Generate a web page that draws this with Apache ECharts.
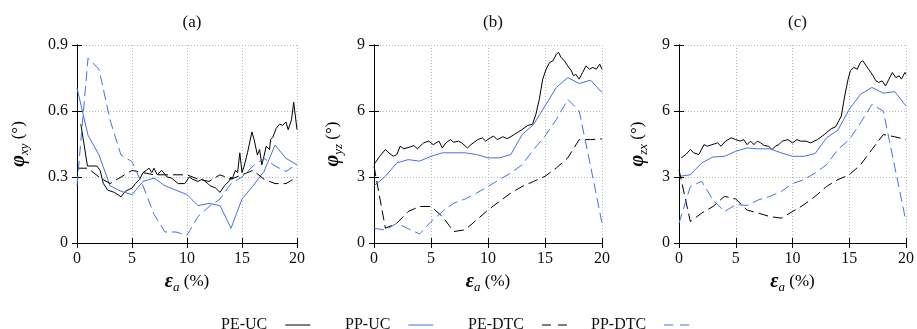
<!DOCTYPE html>
<html>
<head>
<meta charset="utf-8">
<script src="https://cdn.jsdelivr.net/npm/echarts@6/dist/echarts.min.js"></script>
<style>
  html, body { margin: 0; padding: 0; background: #fff; }
  #chart { width: 917px; height: 329px; }
</style>
</head>
<body>
<div id="chart"></div>
<script>
// Rotation angles (deg) vs axial strain (%) for three planes
const seriesNames = ['PE-UC', 'PP-UC', 'PE-DTC', 'PP-DTC'];
const panelTitles = ['(a)', '(b)', '(c)'];
const xTicks = [0, 5, 10, 15, 20];
const yTicksA = [0, 0.3, 0.6, 0.9];
const yTicksBC = [0, 3, 6, 9];

// (a) phi_xy
const aPEUC = [[0.35,0.54],[0.95,0.35],[1.8,0.35],[2.1,0.33],[2.4,0.27],[2.8,0.24],[3.4,0.23],[4.0,0.21],[4.4,0.235],[5.0,0.25],[5.3,0.27],[5.7,0.29],[6.0,0.32],[6.3,0.33],[6.55,0.34],[6.8,0.32],[7.0,0.34],[7.3,0.31],[7.7,0.33],[8.2,0.30],[8.6,0.295],[9.2,0.27],[9.8,0.27],[10.2,0.30],[10.5,0.29],[11.0,0.28],[11.4,0.29],[11.9,0.27],[12.1,0.26],[12.6,0.25],[13.0,0.23],[13.4,0.26],[13.8,0.28],[14.0,0.30],[14.1,0.29],[14.4,0.33],[14.6,0.32],[14.8,0.41],[15.0,0.32],[15.2,0.35],[15.5,0.41],[15.9,0.505],[16.1,0.47],[16.4,0.40],[16.6,0.425],[16.8,0.355],[17.0,0.395],[17.2,0.44],[17.5,0.425],[17.6,0.47],[17.8,0.48],[18.1,0.52],[18.4,0.54],[18.7,0.535],[19.0,0.55],[19.2,0.515],[19.5,0.56],[19.7,0.64],[19.85,0.64],[20,0.515]];
const aPPUC = [[0,0.705],[1,0.49],[2,0.40],[3,0.26],[4,0.235],[5,0.22],[6,0.28],[7,0.295],[8,0.26],[9,0.24],[10,0.22],[11,0.17],[12,0.18],[13,0.17],[14,0.067],[15,0.2],[16,0.26],[17,0.325],[18,0.445],[19,0.385],[20,0.355]];
const aPEDTC = [[0,0.34],[1,0.34],[2,0.30],[3,0.27],[4,0.30],[5,0.33],[6,0.32],[7,0.31],[8,0.31],[9,0.31],[10,0.31],[11,0.29],[12,0.28],[13,0.31],[14,0.29],[15,0.31],[16,0.33],[17,0.29],[18,0.27],[19,0.27],[20,0.30]];
const aPPDTC = [[0,0.26],[1,0.84],[2,0.79],[3,0.56],[4,0.40],[5,0.37],[6,0.26],[7,0.13],[8,0.05],[9,0.05],[10,0.035],[11,0.12],[12,0.165],[13,0.2],[14,0.27],[15,0.30],[16,0.35],[17,0.385],[18,0.35],[19,0.325],[20,0.36]];

// (b) phi_yz
const bPEUC = [[0.1,3.64],[0.5,3.94],[1.0,4.25],[1.3,4.1],[1.7,3.94],[2.0,4.02],[2.3,4.4],[2.6,4.28],[3.2,4.37],[3.5,4.43],[3.8,4.28],[4.35,4.55],[4.8,4.63],[5.2,4.47],[5.7,4.63],[6.0,4.32],[6.3,4.55],[6.7,4.7],[7.0,4.58],[7.4,4.63],[7.7,4.55],[8.2,4.32],[8.5,4.47],[9.1,4.7],[9.5,4.78],[9.8,4.63],[10.2,4.78],[10.5,4.86],[10.8,4.7],[11.3,4.83],[11.7,4.74],[12.3,4.93],[13.0,5.16],[13.5,5.35],[13.9,5.39],[14.2,5.85],[14.5,6.53],[14.8,7.45],[15.1,7.9],[15.4,8.2],[15.7,8.28],[16.0,8.59],[16.2,8.66],[16.4,8.44],[16.7,8.28],[17.0,8.05],[17.3,7.83],[17.5,7.6],[17.7,7.67],[18.0,7.45],[18.3,7.75],[18.6,8.05],[18.9,7.9],[19.2,7.98],[19.5,7.9],[19.8,8.13],[20,7.9]];
const bPPUC = [[0,2.6],[1,3.03],[2,3.64],[3,3.79],[4,3.72],[5,3.94],[6,4.1],[7,4.1],[8,4.1],[9,4.02],[10,3.87],[11,3.87],[12,4.02],[13,4.93],[14,5.39],[15,6.23],[16,7.07],[17,7.52],[18,7.25],[19,7.4],[20,6.84]];
const bPEDTC = [[0,3.49],[1,0.67],[2,0.9],[3,1.43],[4,1.66],[5,1.66],[6,1.2],[7,0.52],[8,0.6],[9,1.05],[10,1.5],[11,1.89],[12,2.27],[13,2.57],[14,2.8],[15,3.03],[16,3.41],[17,3.87],[18,4.7],[19,4.7],[20,4.73]];
const bPPDTC = [[0,0.67],[1,0.59],[2,0.9],[3,0.65],[4,0.41],[5,0.97],[6,1.43],[7,1.81],[8,2.0],[9,2.27],[10,2.57],[11,2.88],[12,3.18],[13,3.56],[14,4.25],[15,4.86],[16,5.62],[17,6.53],[18,6.0],[19,3.49],[20,0.9]];

// (c) phi_zx
const cPEUC = [[0.2,3.87],[0.6,4.02],[1.0,4.25],[1.3,4.1],[1.75,4.02],[2.2,4.47],[2.5,4.4],[2.9,4.47],[3.4,4.55],[3.7,4.4],[4.1,4.63],[4.6,4.78],[5.0,4.7],[5.4,4.63],[5.7,4.7],[6.0,4.47],[6.3,4.63],[6.6,4.47],[6.9,4.63],[7.2,4.55],[7.5,4.43],[7.9,4.4],[8.2,4.25],[8.5,4.4],[8.8,4.47],[9.1,4.63],[9.6,4.7],[10.0,4.55],[10.4,4.7],[10.7,4.63],[11.2,4.63],[11.6,4.55],[12.2,4.7],[12.8,4.93],[13.4,5.19],[13.8,5.28],[14.3,5.77],[14.6,6.68],[14.9,7.45],[15.1,7.83],[15.4,7.98],[15.7,7.9],[16.0,8.23],[16.2,8.28],[16.5,8.05],[16.8,7.83],[17.1,7.6],[17.35,7.37],[17.6,7.3],[17.9,7.37],[18.2,7.14],[18.5,7.45],[18.8,7.75],[19.1,7.52],[19.4,7.6],[19.6,7.45],[19.9,7.75],[20,7.67]];
const cPPUC = [[0,3.03],[1,3.1],[2,3.64],[3,3.91],[4,3.94],[5,4.17],[6,4.32],[7,4.28],[8,4.28],[9,4.1],[10,3.94],[11,3.94],[12,4.07],[13,4.78],[14,5.13],[15,6.08],[16,6.76],[17,7.07],[18,6.81],[19,6.88],[20,6.23]];
const cPEDTC = [[0,3.33],[1,0.97],[2,1.36],[3,1.66],[4,2.12],[5,2.0],[6,1.5],[7,1.36],[8,1.2],[9,1.13],[10,1.43],[11,1.74],[12,2.12],[13,2.57],[14,2.88],[15,3.1],[16,3.56],[17,4.25],[18,4.93],[19,4.83],[20,4.7]];
const cPPDTC = [[0,0.9],[1,2.57],[2,2.8],[3,1.96],[4,1.43],[5,1.74],[6,1.71],[7,1.96],[8,2.12],[9,2.34],[10,2.7],[11,2.88],[12,3.18],[13,3.56],[14,4.25],[15,4.7],[16,5.47],[17,6.3],[18,6.0],[19,3.49],[20,0.97]];

const panelData = [
  [aPEUC, aPPUC, aPEDTC, aPPDTC],
  [bPEUC, bPPUC, bPEDTC, bPPDTC],
  [cPEUC, cPPUC, cPEDTC, cPPDTC]
];

const SERIF = 'Liberation Serif';
const BLUE = '#4273e2';
const lineColors = ['#000', BLUE, '#000', BLUE];
const lineDashes = ['solid', 'solid', [10, 5], [10, 5]];
const legendDashes = ['solid', 'solid', [9, 7], [9, 7]];

const grids = [
  { left: 77, top: 45, width: 220, height: 198 },
  { left: 374, top: 45, width: 228, height: 198 },
  { left: 679, top: 45, width: 227, height: 198 }
];

const yNames = [
  '{p|φ}{s|xy}{r| (°)}',
  '{p|φ}{s|yz}{r| (°)}',
  '{p|φ}{s|zx}{r| (°)}'
];
const yNameGaps = [46, 29, 29];
const yRanges = [
  { ticks: yTicksA, max: 0.9, interval: 0.3 },
  { ticks: yTicksBC, max: 9, interval: 3 },
  { ticks: yTicksBC, max: 9, interval: 3 }
];

const nameRich = {
  p: { fontFamily: SERIF, fontSize: 20, fontStyle: 'italic', fontWeight: 'bold', color: '#000', lineHeight: 24 },
  s: { fontFamily: SERIF, fontSize: 13, fontStyle: 'italic', color: '#000', verticalAlign: 'bottom', lineHeight: 13 },
  r: { fontFamily: SERIF, fontSize: 17, color: '#000', lineHeight: 24 }
};

const labelStyle = { fontFamily: SERIF, fontSize: 16, color: '#111' };
const gridLine = { show: true, lineStyle: { color: '#b8b8b8', type: [1, 2], width: 1 } };

const xAxes = [], yAxes = [], series = [], titles = [];
grids.forEach((g, i) => {
  xAxes.push({
    type: 'value', gridIndex: i, min: xTicks[0], max: xTicks[xTicks.length - 1], interval: 5,
    axisLine: { show: true, lineStyle: { color: '#000', width: 1 } },
    axisTick: { show: true, inside: true, length: 5, lineStyle: { color: '#000' } },
    axisLabel: { ...labelStyle, margin: 8 },
    splitLine: gridLine,
    name: '{p|ε}{s|a}{r| (%)}', nameLocation: 'middle', nameGap: 25,
    nameTextStyle: { rich: nameRich }
  });
  xAxes.push({
    type: 'value', gridIndex: i, position: 'top', min: xTicks[0], max: xTicks[xTicks.length - 1], interval: 5,
    axisLine: { show: true, lineStyle: { color: '#000', width: 1 } },
    axisTick: { show: true, inside: true, length: 5, lineStyle: { color: '#000' } },
    axisLabel: { show: false }, splitLine: { show: false }
  });
  const yr = yRanges[i];
  yAxes.push({
    type: 'value', gridIndex: i, min: 0, max: yr.max, interval: yr.interval,
    axisLine: { show: true, lineStyle: { color: '#000', width: 1 } },
    axisTick: { show: true, inside: true, length: 5, lineStyle: { color: '#000' } },
    axisLabel: { ...labelStyle, margin: 9, formatter: v => {
      const t = yr.ticks.find(k => Math.abs(k - v) < 1e-6);
      return t === undefined ? '' : String(t);
    } },
    splitLine: gridLine,
    name: yNames[i], nameLocation: 'middle', nameRotate: 90, nameGap: yNameGaps[i],
    nameTextStyle: { rich: nameRich }
  });
  yAxes.push({
    type: 'value', gridIndex: i, position: 'right', min: 0, max: yr.max, interval: yr.interval,
    axisLine: { show: true, lineStyle: { color: '#000', width: 1 } },
    axisTick: { show: true, inside: true, length: 5, lineStyle: { color: '#000' } },
    axisLabel: { show: false }, splitLine: { show: false }
  });
  titles.push({
    text: panelTitles[i], left: g.left + g.width / 2, top: 9, textAlign: 'center',
    textStyle: { fontFamily: SERIF, fontSize: 17, fontWeight: 'normal', color: '#111' }
  });
  panelData[i].forEach((d, k) => {
    series.push({
      name: seriesNames[k], type: 'line', xAxisIndex: i * 2, yAxisIndex: i * 2,
      data: d, showSymbol: false, symbol: 'none', animation: false,
      lineStyle: { color: lineColors[k], width: 1, type: lineDashes[k] },
      itemStyle: { color: lineColors[k] }
    });
  });
});

// one legend block per entry: label first, line sample after it (no marker)
const legendLefts = [216, 340, 463, 586];
const legends = seriesNames.map((n, k) => ({
  data: [n], left: legendLefts[k], top: 312, align: 'right',
  itemWidth: 25, itemHeight: 14,
  itemStyle: { opacity: 0, color: 'rgba(0,0,0,0)', borderWidth: 0 },
  lineStyle: { type: legendDashes[k], width: 1 },
  textStyle: { fontFamily: SERIF, fontSize: 16, color: '#111', padding: [0, 13, 0, 0] },
  selectedMode: false
}));

const chart = echarts.init(document.getElementById('chart'), null, { renderer: 'canvas' });
chart.setOption({
  animation: false,
  backgroundColor: '#fff',
  title: titles,
  legend: legends,
  grid: grids,
  xAxis: xAxes,
  yAxis: yAxes,
  series: series
});
</script>
</body>
</html>
